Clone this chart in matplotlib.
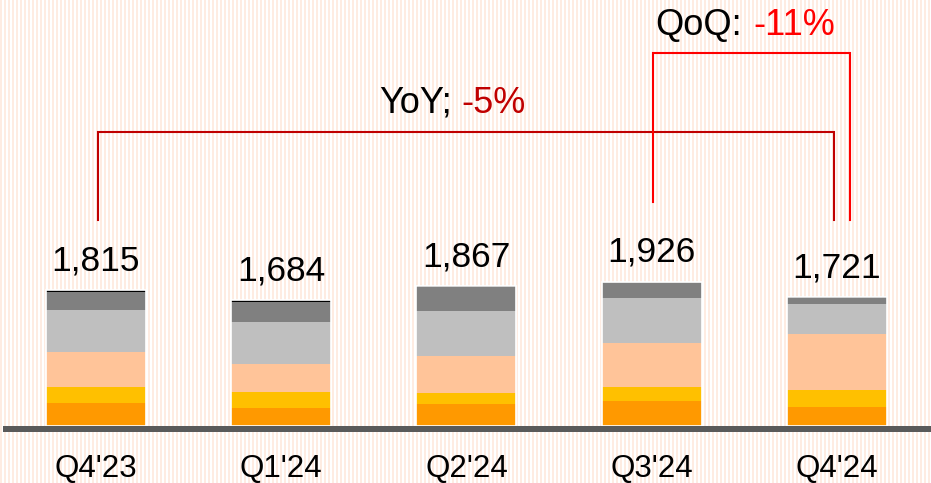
import numpy as np
import matplotlib
matplotlib.use("Agg")
import matplotlib.pyplot as plt

plt.rcParams['font.family'] = ['Liberation Sans', 'DejaVu Sans']

categories = ["Q4'23", "Q1'24", "Q2'24", "Q3'24", "Q4'24"]
totals = [1815, 1684, 1867, 1926, 1721]
seg_orange = [305, 239, 291, 326, 254]
seg_yellow = [219, 219, 147, 197, 219]
seg_peach = [470, 367, 500, 585, 762]
seg_lgray = [551, 560, 603, 597, 392]
seg_dgray = [246, 277, 312, 221, 80]
seg_black = [24, 22, 14, 0, 14]
total_labels = ["1,815", "1,684", "1,867", "1,926", "1,721"]

segments = [seg_orange, seg_yellow, seg_peach, seg_lgray, seg_dgray, seg_black]
colors = ['#FF9900', '#FFC000', '#FFC499', '#BFBFBF', '#808080', '#000000']

W, H = 931, 483
fig = plt.figure(figsize=(W / 100, H / 100), dpi=100)
fig.patch.set_facecolor('white')

# striped background
bg = np.ones((H, W, 3))
stripe = np.array([254, 236, 226]) / 255.0
cols = np.arange(W)
mask = (cols % 4) < 2
bg[:, mask, :] = stripe
fig.figimage(bg, xo=0, yo=0, zorder=-10)

ax = fig.add_axes([0, 0, 1, 1])
ax.patch.set_alpha(0)
for s in ax.spines.values():
    s.set_visible(False)
ax.set_xticks([])
ax.set_yticks([])

spacing_px = 185.2
first_px = 96.0
base_px = 425.7  # from top
upp = 13.4  # units per pixel
ax.set_xlim(-first_px / spacing_px, (W - first_px) / spacing_px)
ax.set_ylim(-(H - base_px) * upp, base_px * upp)

x = np.arange(len(categories))
width = 100 / spacing_px
bottom = np.zeros(len(categories))
for seg, c in zip(segments, colors):
    ax.bar(x, seg, width, bottom=bottom, color=c, edgecolor='none', zorder=2)
    bottom += np.array(seg)
# white outline around bars
ax.bar(x, totals, width, fill=False, edgecolor='white', linewidth=1.2, zorder=3)

# baseline
ax.axhspan(-6 * upp, 0, xmin=3 / W, xmax=1, color='#5A5A5A', lw=0, zorder=4)

# value labels
for xi, t, lab in zip(x, totals, total_labels):
    ax.text(xi, t + 20 * upp, lab, ha='center', va='baseline', fontsize=25.5, color='black', zorder=5)

# category labels
for xi, lab in zip(x, categories):
    ax.text(xi, -51 * upp, lab, ha='center', va='baseline', fontsize=22.5, color='black', zorder=5)

def px_x(p):
    return (p - first_px) / spacing_px

def px_y(p):
    return (base_px - p) * upp

# YoY bracket
dark_red = '#C00000'
yoy_y = px_y(131.7)
ax.plot([x[0] + 0.01, x[0] + 0.01, x[4] - 0.015, x[4] - 0.015],
        [px_y(220), yoy_y, yoy_y, px_y(220)], color=dark_red, lw=1.5,
        solid_joinstyle='miter', zorder=5)
ax.text(px_x(451.5), px_y(112.7), "YoY;", ha='right', va='baseline', fontsize=26, color='black')
ax.text(px_x(461), px_y(112.7), "-5%", ha='left', va='baseline', fontsize=26, color=dark_red)

# QoQ bracket
red = '#FF0000'
qoq_y = px_y(53.3)
ax.plot([x[3] + 0.005, x[3] + 0.005, x[4] + 0.07, x[4] + 0.07],
        [px_y(202), qoq_y, qoq_y, px_y(220)], color=red, lw=1.5,
        solid_joinstyle='miter', zorder=5)
ax.text(px_x(742), px_y(35), "QoQ:", ha='right', va='baseline', fontsize=26, color='black')
ax.text(px_x(753), px_y(35), "-11%", ha='left', va='baseline', fontsize=26, color=red)

fig.savefig('out.png', dpi=100)
